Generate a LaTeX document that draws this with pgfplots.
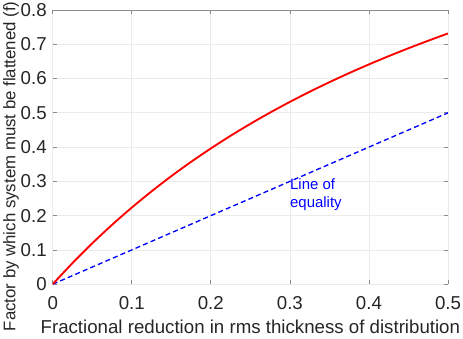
\documentclass[border=0pt]{standalone}
\usepackage{pgfplots}
\pgfplotsset{compat=1.18}
\usepackage{fontspec}
\setmainfont{Liberation Sans}
\definecolor{txt}{HTML}{262626}
\definecolor{gridc}{HTML}{EBEBEB}
\definecolor{axc}{HTML}{8C8C8C}
\begin{document}
\begin{tikzpicture}
\begin{axis}[
  scale only axis,
  width=296.25pt, height=205.5pt,
  xmin=0, xmax=0.5, ymin=0, ymax=0.8,
  xtick={0,0.1,0.2,0.3,0.4,0.5},
  ytick={0,0.1,0.2,0.3,0.4,0.5,0.6,0.7,0.8},
  xticklabels={0,0.1,0.2,0.3,0.4,0.5},
  yticklabels={0,0.1,0.2,0.3,0.4,0.5,0.6,0.7,0.8},
  grid=major,
  major grid style={draw=gridc, line width=0.5pt},
  axis line style={draw=none},
  tick align=inside,
  major tick length=3pt,
  tick style={draw=axc, line width=0.5pt},
  ticklabel style={font=\fontsize{14}{16}\selectfont, text=txt},
  xticklabel style={yshift=-6pt},
  yticklabel style={xshift=-1pt},
  xlabel={Fractional reduction in rms thickness of distribution},
  ylabel={Factor by which system must be flattened (f)},
  xlabel style={font=\fontsize{14}{16}\selectfont, text=txt, at={(axis description cs:0.5,0)}, anchor=base, yshift=-36.75pt},
  ylabel style={font=\fontsize{12.6}{14}\selectfont, text=txt, at={(axis description cs:0,0.43)}, anchor=base, yshift=28pt},
]
\coordinate (ll) at (rel axis cs:0,0);
\coordinate (ur) at (rel axis cs:1,1);
\draw[axc, line width=0.6pt] (rel axis cs:0,1) -- (rel axis cs:1,1);
\addplot[blue, line width=1pt, dash pattern=on 3.75pt off 2.4pt] coordinates {(0,0) (0.5,0.5)};
\addplot[red, line width=1.4pt, smooth] coordinates {
(0,0) (0.025,0.0616) (0.05,0.1192) (0.075,0.1731) (0.1,0.2235) (0.125,0.2708)
(0.15,0.3152) (0.175,0.3569) (0.2,0.3961) (0.225,0.4330) (0.25,0.4679)
(0.275,0.5008) (0.3,0.5319) (0.325,0.5614) (0.35,0.5894) (0.375,0.6160)
(0.4,0.6413) (0.425,0.6654) (0.45,0.6884) (0.475,0.7104) (0.5,0.7316)
};
\node[anchor=north west, align=left, text=blue, font=\fontsize{11.2}{14}\selectfont, inner sep=0pt] at (axis cs:0.3,0.31) {Line of\\equality};
\end{axis}
\pgfresetboundingbox
\path[use as bounding box] ([xshift=-39.5pt,yshift=-40.5pt]ll) rectangle ([xshift=11.25pt,yshift=7.5pt]ur);
\end{tikzpicture}
\end{document}
